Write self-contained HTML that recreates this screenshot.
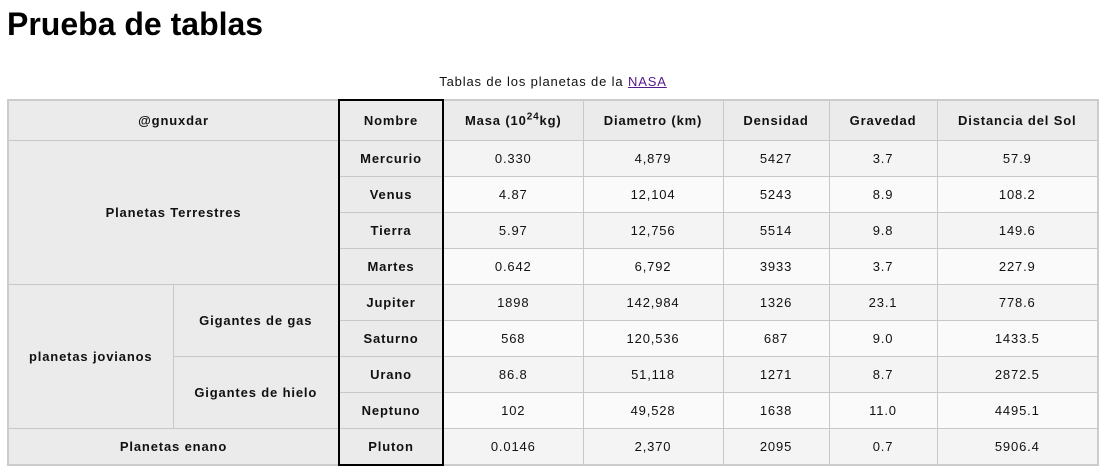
<!DOCTYPE html>
<html><head><meta charset="utf-8"><style>
body{margin:0;width:1120px;height:474px;background:#fff;font-family:"Liberation Sans",sans-serif;overflow:hidden}
h1{position:absolute;left:7px;top:4px;margin:0;font-size:32px;font-weight:bold;line-height:40px}
table{position:absolute;left:7px;top:99px;width:1090px;border-collapse:collapse;table-layout:fixed;border:2px solid #ccc;font-size:13px;letter-spacing:0.85px;color:#111}
caption{caption-side:top;height:26px;line-height:14px;font-size:13px;vertical-align:top;position:relative;top:-24px;margin-bottom:-26px}
caption a{color:#551a8b}
td,th{border:1px solid #c8c8c8;text-align:center;padding:0;height:35px}
thead th{height:39px}
th{background:#ebebeb;font-weight:bold}
.nm{border-left:2px solid #000;border-right:2px solid #000;background:#ebebeb;font-weight:bold}
thead .nm{border-top:2px solid #000}
tr.last .nm{border-bottom:2px solid #000}
tbody tr:nth-child(odd) td{background:#f4f4f4}
tbody tr:nth-child(even) td{background:#fafafa}
sup{font-size:10px;line-height:0}
</style></head><body>
<h1>Prueba de tablas</h1>
<table>
<caption>Tablas de los planetas de la <a href="#">NASA</a></caption>
<colgroup><col style="width:165px"><col style="width:166px"><col style="width:104px"><col style="width:140px"><col style="width:140px"><col style="width:106px"><col style="width:108px"><col style="width:161px"></colgroup>
<thead><tr>
<th colspan="2">@gnuxdar</th><th class="nm">Nombre</th><th>Masa (10<sup>24</sup>kg)</th><th>Diametro (km)</th><th>Densidad</th><th>Gravedad</th><th>Distancia del Sol</th></tr></thead>
<tbody>
<tr><th colspan="2" rowspan="4">Planetas Terrestres</th><th class="nm">Mercurio</th><td>0.330</td><td>4,879</td><td>5427</td><td>3.7</td><td>57.9</td></tr>
<tr><th class="nm">Venus</th><td>4.87</td><td>12,104</td><td>5243</td><td>8.9</td><td>108.2</td></tr>
<tr><th class="nm">Tierra</th><td>5.97</td><td>12,756</td><td>5514</td><td>9.8</td><td>149.6</td></tr>
<tr><th class="nm">Martes</th><td>0.642</td><td>6,792</td><td>3933</td><td>3.7</td><td>227.9</td></tr>
<tr><th rowspan="4">planetas jovianos</th><th rowspan="2">Gigantes de gas</th><th class="nm">Jupiter</th><td>1898</td><td>142,984</td><td>1326</td><td>23.1</td><td>778.6</td></tr>
<tr><th class="nm">Saturno</th><td>568</td><td>120,536</td><td>687</td><td>9.0</td><td>1433.5</td></tr>
<tr><th rowspan="2">Gigantes de hielo</th><th class="nm">Urano</th><td>86.8</td><td>51,118</td><td>1271</td><td>8.7</td><td>2872.5</td></tr>
<tr><th class="nm">Neptuno</th><td>102</td><td>49,528</td><td>1638</td><td>11.0</td><td>4495.1</td></tr>
<tr class="last"><th colspan="2">Planetas enano</th><th class="nm">Pluton</th><td>0.0146</td><td>2,370</td><td>2095</td><td>0.7</td><td>5906.4</td></tr>
</tbody></table>
</body></html>
